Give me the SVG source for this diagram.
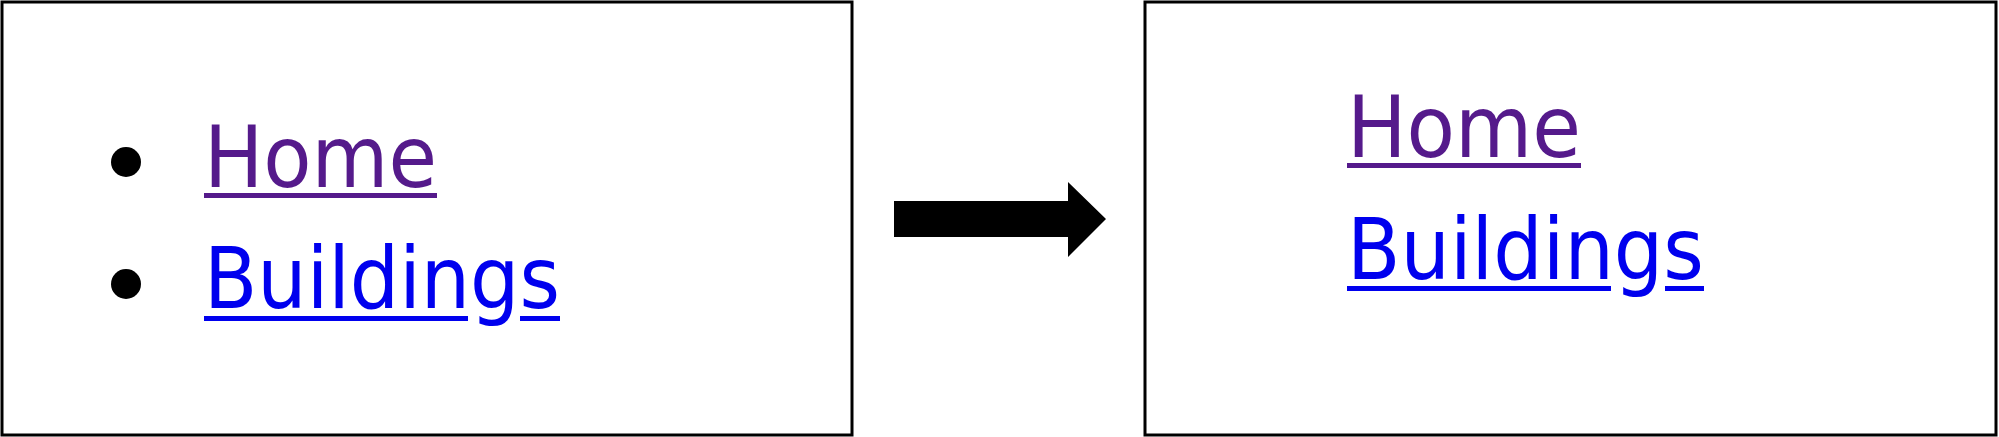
<svg xmlns="http://www.w3.org/2000/svg" width="1999" height="437" viewBox="0 0 1999 437">
<style>
.box{fill:#fff;stroke:#000;stroke-width:3}
.lnk{font-family:"DejaVu Sans","Verdana",sans-serif;font-size:85px}
.visited{fill:#551A8B}
.link{fill:#0000EE}
</style>
<rect width="1999" height="437" fill="#fff"/>
<g id="before">
<rect class="box" x="2" y="2" width="850" height="433"/>
<circle cx="126" cy="162" r="15" fill="#000"/>
<circle cx="126" cy="284" r="15" fill="#000"/>
<text class="lnk visited" x="204" y="187" textLength="233" lengthAdjust="spacingAndGlyphs">Home</text>
<rect class="visited" x="204" y="193" width="233" height="5"/>
<text class="lnk link" x="204" y="308" textLength="356" lengthAdjust="spacingAndGlyphs">Buildings</text>
<rect class="link" x="204" y="316" width="264" height="5"/>
<rect class="link" x="520" y="316" width="40" height="5"/>
</g>
<g id="after">
<rect class="box" x="1145" y="2" width="851" height="433"/>
<text class="lnk visited" x="1347" y="157" textLength="234" lengthAdjust="spacingAndGlyphs">Home</text>
<rect class="visited" x="1347" y="163" width="234" height="5"/>
<text class="lnk link" x="1347" y="279" textLength="357" lengthAdjust="spacingAndGlyphs">Buildings</text>
<rect class="link" x="1347" y="286" width="264" height="5"/>
<rect class="link" x="1665" y="286" width="39" height="5"/>
</g>
<g id="connectors">
<polygon points="894,201 1068,201 1068,182 1106,219 1068,257 1068,237 894,237" fill="#000"/>
</g>
</svg>
